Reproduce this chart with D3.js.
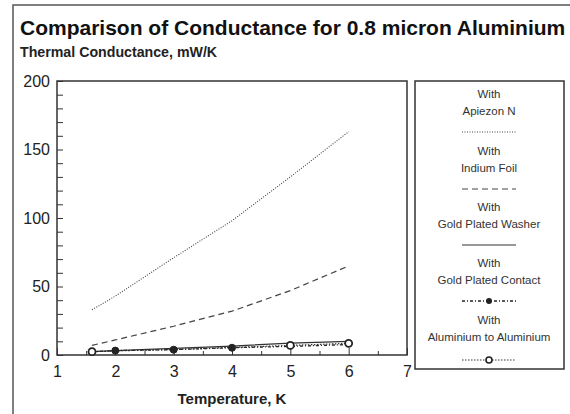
<!DOCTYPE html>
<html><head><meta charset="utf-8">
<script src="https://cdn.jsdelivr.net/npm/d3@7"></script>
<style>
body{margin:0;background:#fff;}
svg{display:block;font-family:"Liberation Sans",Arial,sans-serif;}
</style></head>
<body>
<svg id="chart" width="570" height="414"></svg>
<script>
const temps = [1.6, 2, 3, 4, 5, 6];
const apiezon = [33, 43, 71, 98, 130, 163];
const indium = [7, 11, 21, 32, 47, 65];
const washer = [2.5, 3.2, 4.8, 6.5, 8.7, 10];
const contact = [2.4, 3.2, 3.9, 5.3, 6.3, 7.6];
const aluminium = [2.4, 3.0, 4.0, 5.5, 7.0, 8.5];
const seriesNames = ["Apiezon N", "Indium Foil", "Gold Plated Washer", "Gold Plated Contact", "Aluminium to Aluminium"];
const xTicks = [1, 2, 3, 4, 5, 6, 7];
const yTicks = [0, 50, 100, 150, 200];

const svg = d3.select("#chart");
const m = {left: 57, right: 407, top: 81, bottom: 355};

// outer frame
svg.append("rect").attr("x", 13).attr("y", 5).attr("width", 575).attr("height", 430)
  .attr("fill", "none").attr("stroke", "#555").attr("stroke-width", 1.5);

svg.append("text").attr("x", 20).attr("y", 35).attr("font-size", 21).attr("font-weight", "bold")
  .attr("fill", "#111").text("Comparison of Conductance for 0.8 micron Aluminium");
svg.append("text").attr("x", 20).attr("y", 57).attr("font-size", 14.2).attr("font-weight", "bold")
  .attr("fill", "#222").text("Thermal Conductance, mW/K");

const x = d3.scaleLinear().domain([1, 7]).range([m.left, m.right]);
const y = d3.scaleLinear().domain([0, 200]).range([m.bottom, m.top]);

const g = svg.append("g");
g.append("rect").attr("x", m.left).attr("y", m.top).attr("width", m.right - m.left).attr("height", m.bottom - m.top)
  .attr("fill", "none").attr("stroke", "#333").attr("stroke-width", 1.5);

const yAxis = d3.axisLeft(y).tickValues(d3.range(0, 201, 10)).tickSize(-6).tickFormat(d => yTicks.includes(d) ? d : "");
const ya = g.append("g").attr("transform", `translate(${m.left},0)`).call(yAxis);
ya.select(".domain").remove();
ya.selectAll("line").attr("stroke", "#333");
ya.selectAll("text").attr("x", -7).attr("font-size", 16).attr("fill", "#222").attr("font-family", "Liberation Sans, Arial, sans-serif");

const xAxis = d3.axisBottom(x).tickValues(d3.range(1, 7.01, 0.5)).tickSize(-4).tickFormat(d => xTicks.includes(d) ? d : "");
const xa = g.append("g").attr("transform", `translate(0,${m.bottom})`).call(xAxis);
xa.select(".domain").remove();
xa.selectAll("line").attr("stroke", "#333").attr("y2", d => Number.isInteger(d) ? -7 : -4);
xa.selectAll("text").attr("y", 11).attr("font-size", 16).attr("fill", "#222").attr("font-family", "Liberation Sans, Arial, sans-serif");

svg.append("text").attr("x", (m.left + m.right) / 2).attr("y", 404).attr("text-anchor", "middle")
  .attr("font-size", 15).attr("font-weight", "bold").attr("fill", "#222").text("Temperature, K");

const line = d3.line().x(d => x(d[0])).y(d => y(d[1]));
const styles = [
  {data: apiezon, dash: "1,1.5", color: "#444", w: 1.1},
  {data: indium, dash: "6,4", color: "#444", w: 1.2},
  {data: washer, dash: null, color: "#333", w: 1.2},
  {data: contact, dash: "3,2,1,2", color: "#222", w: 1.3},
  {data: aluminium, dash: "1.5,1.5", color: "#333", w: 1.2}
];
styles.forEach(s => {
  g.append("path").datum(temps.map((t, i) => [t, s.data[i]]))
    .attr("d", line).attr("fill", "none").attr("stroke", s.color).attr("stroke-width", s.w)
    .attr("stroke-dasharray", s.dash);
});
const contactIdx = [1, 2, 3];
const aluIdx = [0, 4, 5];
g.selectAll(".mc").data(contactIdx).join("circle")
  .attr("cx", i => x(temps[i])).attr("cy", i => y(contact[i])).attr("r", 3.5)
  .attr("fill", "#222").attr("stroke", "#222");
g.selectAll(".ma").data(aluIdx).join("circle")
  .attr("cx", i => x(temps[i])).attr("cy", i => y(aluminium[i])).attr("r", 3.5)
  .attr("fill", "#fff").attr("stroke", "#222").attr("stroke-width", 1.8);

// legend
const lg = svg.append("g");
lg.append("rect").attr("x", 415).attr("y", 81).attr("width", 149).attr("height", 288)
  .attr("fill", "#fff").attr("stroke", "#333").attr("stroke-width", 1.5);
const lcx = 489;
const rowY = [94, 151, 207, 263, 320];
seriesNames.forEach((name, i) => {
  const y0 = rowY[i];
  lg.append("text").attr("x", lcx).attr("y", y0 + 4).attr("text-anchor", "middle").attr("font-size", 11.5)
    .attr("fill", "#333").text("With");
  lg.append("text").attr("x", lcx).attr("y", y0 + 21).attr("text-anchor", "middle").attr("font-size", 11.5)
    .attr("fill", "#333").text(name);
  const ly = y0 + (i === 4 ? 40 : 38);
  const s = styles[i];
  lg.append("line").attr("x1", lcx - 27).attr("x2", lcx + 27).attr("y1", ly).attr("y2", ly)
    .attr("stroke", s.color).attr("stroke-width", s.w).attr("stroke-dasharray", s.dash);
  if (i === 3) lg.append("circle").attr("cx", lcx).attr("cy", ly).attr("r", 3).attr("fill", "#222");
  if (i === 4) lg.append("circle").attr("cx", lcx).attr("cy", ly).attr("r", 3).attr("fill", "#fff").attr("stroke", "#222").attr("stroke-width", 1.6);
});
</script>
</body></html>
